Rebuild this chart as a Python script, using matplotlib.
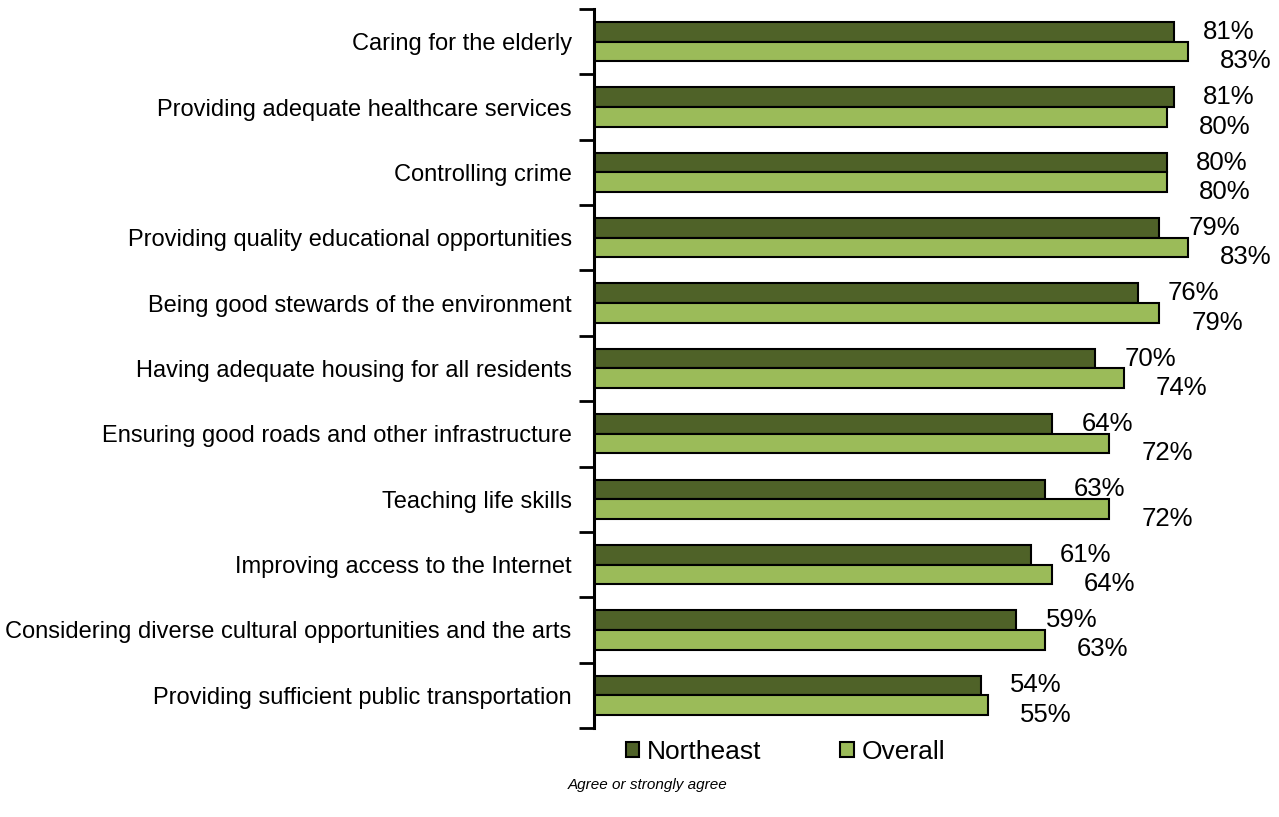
import numpy as np
import matplotlib
matplotlib.use('Agg')
import matplotlib.pyplot as plt
from matplotlib.patches import Patch
from matplotlib.ticker import FixedLocator

########################### data ############################
categories = ['Caring for the elderly',
              'Providing adequate healthcare services',
              'Controlling crime',
              'Providing quality educational opportunities',
              'Being good stewards of the environment',
              'Having adequate housing for all residents',
              'Ensuring good roads and other infrastructure',
              'Teaching life skills',
              'Improving access to the Internet',
              'Considering diverse cultural opportunities and the arts',
              'Providing sufficient public transportation']
northeast = [81, 81, 80, 79, 76, 70, 64, 63, 61, 59, 54]
overall = [83, 80, 80, 83, 79, 74, 72, 72, 64, 63, 55]
series_names = ['Northeast', 'Overall']
footnote = 'Agree or strongly agree'

########################### style ############################
NE_color = '#4F6228'
OV_color = '#9BBB59'
bar_h = 0.3
edge_w = 1.5
label_fs = 17
value_fs = 18.5
legend_fs = 19
plt.rcParams['font.family'] = ['Liberation Sans', 'DejaVu Sans']

fig = plt.figure(figsize=(12.79, 8.17), dpi=100)
ax = fig.add_axes([0.4644, 0.109, 0.995 - 0.4644, 0.989 - 0.109])

y = np.arange(len(categories))
ax.barh(y - bar_h / 2, northeast, height=bar_h, color=NE_color,
        edgecolor='black', linewidth=edge_w)
ax.barh(y + bar_h / 2, overall, height=bar_h, color=OV_color,
        edgecolor='black', linewidth=edge_w)

for i in range(len(categories)):
    ax.annotate(f'{northeast[i]}%', (northeast[i], y[i] - bar_h / 2),
                xytext=(21, 0), textcoords='offset points',
                va='center', ha='left', fontsize=value_fs, annotation_clip=False)
    ax.annotate(f'{overall[i]}%', (overall[i], y[i] + bar_h / 2),
                xytext=(23, -7), textcoords='offset points',
                va='center', ha='left', fontsize=value_fs, annotation_clip=False)

ax.set_xlim(0, 94.8)
ax.set_ylim(len(categories) - 0.5, -0.5)

for s in ['top', 'right', 'bottom']:
    ax.spines[s].set_visible(False)
ax.spines['left'].set_linewidth(2.2)
ax.set_xticks([])

ax.set_yticks(y)
ax.set_yticklabels(categories, fontsize=label_fs)
ax.yaxis.set_minor_locator(FixedLocator(np.arange(len(categories) + 1) - 0.5))
ax.tick_params(axis='y', which='major', length=0, pad=16)
ax.tick_params(axis='y', which='minor', length=11, width=2, direction='out')

handles = [Patch(facecolor=NE_color, edgecolor='black', linewidth=edge_w),
           Patch(facecolor=OV_color, edgecolor='black', linewidth=edge_w)]
fig.legend(handles, series_names, loc='center', bbox_to_anchor=(0.614, 0.0796),
           ncol=2, frameon=False, fontsize=legend_fs, handlelength=0.5,
           handleheight=0.5, handletextpad=0.3, columnspacing=3.0)

fig.text(0.506, 0.039, footnote, ha='center', va='center',
         fontsize=11, style='italic')

fig.savefig('out.png', dpi=100)
